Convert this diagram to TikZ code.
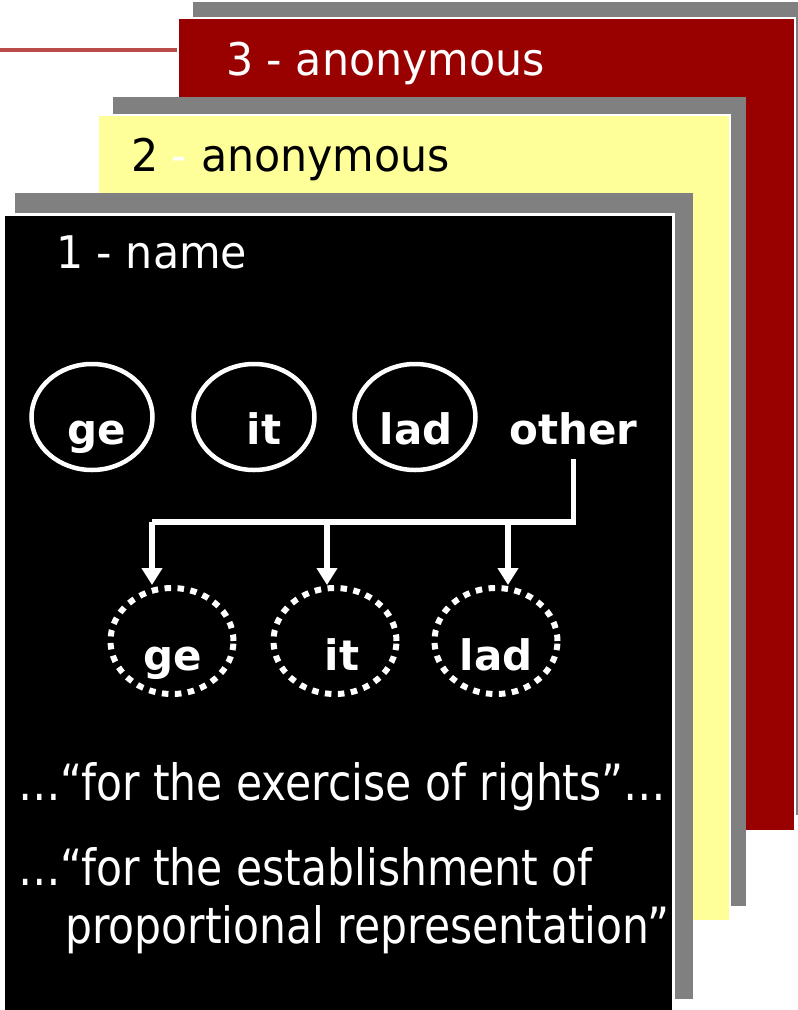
\documentclass[tikz,border=0pt]{standalone}
\usepackage{fontspec}
\setmainfont{DejaVu Sans}
\newfontfamily\titlefont[FakeStretch=0.95]{DejaVu Sans}
\newfontfamily\quotefont[FakeStretch=0.85]{DejaVu Sans}
\usetikzlibrary{shapes.geometric,arrows.meta}
\definecolor{cardred}{RGB}{153,0,0}
\definecolor{cardyellow}{RGB}{255,255,153}
\definecolor{shadowgray}{RGB}{128,128,128}
\definecolor{rulered}{RGB}{185,75,75}
\begin{document}
\begin{tikzpicture}[x=1pt,y=-1pt,
  shadowbox/.style={fill=shadowgray},
  cardbox/.style={draw=white},
  titletext/.style={anchor=base west,inner sep=0pt,font=\titlefont\fontsize{45}{53}\selectfont},
  solidoval/.style={ellipse,draw=white,line width=4.5pt,minimum width=121pt,minimum height=106pt,inner sep=0pt},
  dotoval/.style={ellipse,draw=white,line width=6pt,dash pattern=on 6.5pt off 6.5pt,minimum width=123pt,minimum height=106pt,inner sep=0pt},
  lbl/.style={anchor=base,inner sep=0pt,text=white,font=\bfseries\fontsize{42}{50}\selectfont},
  quotetext/.style={anchor=base west,inner sep=0pt,text=white,font=\quotefont\fontsize{50}{58}\selectfont},
  wline/.style={draw=white,line width=5.5pt},
  warrow/.style={draw=white,line width=5.5pt,-{Triangle[width=20pt,length=17pt]}}
]
\useasboundingbox (0,0) rectangle (798,1010);
% decorative rule
\draw[rulered,line width=4pt] (0,50) -- (178,50);
% card 3
\fill[shadowbox] (193,2) rectangle (812,815);
\draw[cardbox,line width=1.5pt,fill=cardred] (178,18) rectangle (795,831);
\node[titletext,text=white] (t3) at (226,75) {3 - anonymous};
% card 2
\fill[shadowbox] (113,97) rectangle (746,906);
\draw[cardbox,line width=2pt,fill=cardyellow] (98,115) rectangle (730,921);
\node[titletext,text=black] (t2) at (131,171) {2 {\color{white}-} anonymous};
% card 1
\fill[shadowbox] (15,193) rectangle (693,999);
\draw[cardbox,line width=3pt,fill=black] (3.5,214.5) rectangle (673.5,1014);
\node[titletext,text=white] (t1) at (56,268) {1 - name};
% solid ovals
\node[solidoval] (s1) at (92,417) {};
\node[solidoval] (s2) at (254,417) {};
\node[solidoval] (s3) at (415,417) {};
\node[lbl] (ls1) at (97,444) {ge};
\node[lbl] (ls2) at (264,444) {it};
\node[lbl] (ls3) at (416,444) {lad};
\node[lbl] (other) at (573.5,444) {other};
% dotted ovals
\node[dotoval] (d1) at (172,641) {};
\node[dotoval] (d2) at (335,641) {};
\node[dotoval] (d3) at (496,641) {};
\node[lbl] (ld1) at (173,670) {ge};
\node[lbl] (ld2) at (342,670) {it};
\node[lbl] (ld3) at (496,670) {lad};
% connectors
\coordinate (ja) at (152,522);
\coordinate (jb) at (327,522);
\coordinate (jc) at (508,522);
\draw[wline] ([yshift=-14pt]other.south) |- (ja);
\draw[warrow] (ja) -- (ja |- d1.north);
\draw[warrow] (jb) -- (jb |- d2.north);
\draw[warrow] (jc) -- (jc |- d3.north);
% quotes
\node[quotetext] (q1) at (18,800) {…“for the exercise of rights”…};
\node[quotetext] (q2) at (18,885) {…“for the establishment of};
\node[quotetext] (q3) at (65,943) {proportional representation”};
\end{tikzpicture}
\end{document}
